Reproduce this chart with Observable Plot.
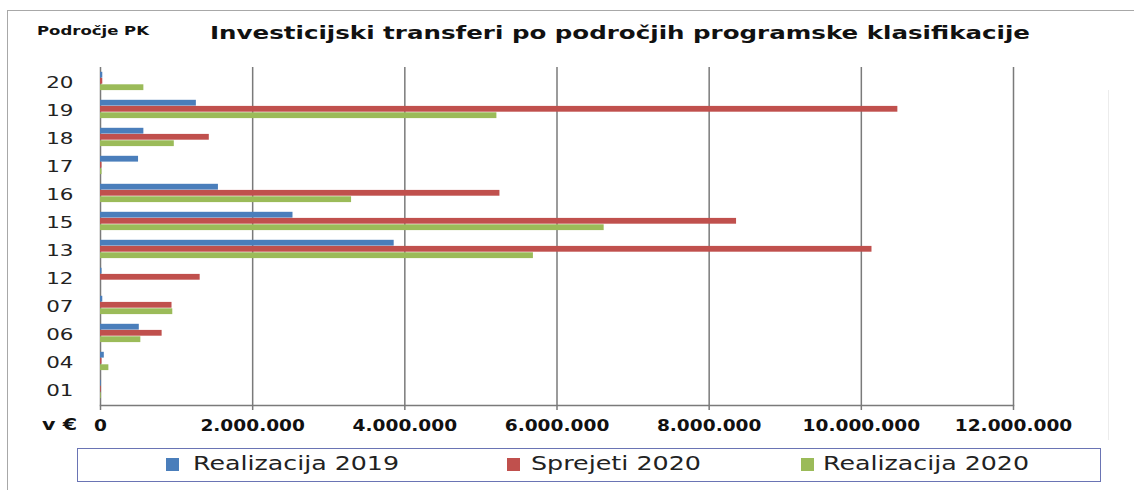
<!DOCTYPE html>
<html>
<head>
<meta charset="utf-8">
<script src="https://cdn.jsdelivr.net/npm/d3@7"></script>
<script src="https://cdn.jsdelivr.net/npm/@observablehq/plot@0.6"></script>
<style>
  html, body { margin: 0; padding: 0; background: #fff; }
  #wrap { position: relative; width: 1134px; height: 490px; overflow: hidden; font-family: "DejaVu Sans", sans-serif; color: #111; }
  #frame { position: absolute; left: 7px; top: 10px; width: 1200px; height: 600px; border-left: 1.5px solid #a8a8a8; border-top: 1.5px solid #a8a8a8; }
  #rline { position: absolute; left: 1108px; top: 90px; width: 1px; height: 350px; background: #ececec; }
  .abs { position: absolute; white-space: nowrap; transform-origin: 0 50%; }
  #title { font-weight: bold; font-size: 18.5px; top: 22px; }
  #ylab { font-weight: bold; font-size: 12.5px; top: 23px; left: 37px; }
  #unit { font-weight: bold; font-size: 15px; top: 416px; left: 42px; }
  #chart { position: absolute; left: 0; top: 55px; }
  #legend { position: absolute; left: 77px; top: 448px; width: 1024px; height: 34px; border: 1.5px solid #6a74b4; box-sizing: border-box; }
  .sw { position: absolute; width: 13px; height: 13px; top: 9px; }
  .lt { position: absolute; top: 3px; font-size: 19px; font-family: "DejaVu Sans", sans-serif; color: #222; white-space: nowrap; transform-origin: 0 50%; }
</style>
</head>
<body>
<div id="wrap">
  <div id="frame"></div>
  <div id="rline"></div>
  <div id="ylab" class="abs">Področje PK</div>
  <div id="title" class="abs">Investicijski transferi po področjih programske klasifikacije</div>
  <div id="chart"></div>
  <div id="unit" class="abs">v €</div>
  <div id="legend"></div>
</div>
<script>
// ---- data (values in €) ----
const categories = ["20", "19", "18", "17", "16", "15", "13", "12", "07", "06", "04", "01"];
const seriesNames = ["Realizacija 2019", "Sprejeti 2020", "Realizacija 2020"];
const realizacija2019 = [30000, 1260000, 570000, 500000, 1550000, 2530000, 3860000, 20000, 30000, 510000, 50000, 10000];
const sprejeti2020    = [30000, 10480000, 1430000, 20000, 5250000, 8360000, 10140000, 1310000, 940000, 810000, 20000, 10000];
const realizacija2020 = [570000, 5210000, 970000, 20000, 3300000, 6620000, 5690000, 0, 950000, 530000, 110000, 10000];
const xTicks = [0, 2000000, 4000000, 6000000, 8000000, 10000000, 12000000];
const colors = ["#4a7ebb", "#c0504d", "#9bbb59"];

const seriesValues = [realizacija2019, sprejeti2020, realizacija2020];
const rows = [];
seriesNames.forEach((s, si) => categories.forEach((c, ci) => rows.push({cat: c, series: s, value: seriesValues[si][ci]})));

const fmt = d3.formatLocale({decimal: ",", thousands: ".", grouping: [3], currency: ["", "€"]}).format(",d");

const offsets = [-7.3, -1.2, 5.2];
const barInset = 11.1;

const plot = Plot.plot({
  width: 1134,
  height: 390,
  marginLeft: 100,
  marginRight: 121,
  marginTop: 12,
  marginBottom: 40,
  style: {fontFamily: "DejaVu Sans", background: "transparent", color: "#111", overflow: "visible"},
  x: {domain: [0, 12000000], ticks: xTicks, tickFormat: fmt, tickSize: 5, tickPadding: 10, label: null},
  y: {domain: categories, padding: 0, tickSize: 0, tickPadding: 27, label: null},
  color: {domain: seriesNames, range: colors},
  marks: [
    Plot.ruleX(xTicks, {stroke: "#7a7a7a", strokeWidth: 1.5}),
    ...seriesNames.map((s, i) => Plot.barX(rows.filter(d => d.series === s), {
      x: "value", y: "cat", fill: "series", insetTop: barInset, insetBottom: barInset, dy: offsets[i]
    })),
    Plot.frame({anchor: "bottom", stroke: "#7a7a7a", strokeWidth: 1.5})
  ]
});
document.getElementById("chart").appendChild(plot);

// axis text styling: widen glyphs horizontally like the reference
const svg = d3.select(plot);
function widen(sel, sx) {
  sel.each(function() {
    const t = this.getAttribute("transform") || "";
    this.setAttribute("transform", t + ` scale(${sx},1)`);
  });
}
svg.selectAll("[aria-label='x-axis tick label']")
  .style("font-weight", "bold").style("font-size", "15px");
widen(svg.selectAll("[aria-label='x-axis tick label'] text"), 1.24);
svg.selectAll("[aria-label='x-axis tick']").attr("stroke", "#7a7a7a").attr("stroke-width", 1.5);
svg.selectAll("[aria-label='y-axis tick label']").style("font-size", "16.5px").attr("fill", "#222");
widen(svg.selectAll("[aria-label='y-axis tick label'] text"), 1.3);

// fit helpers for HTML text (horizontal stretch)
function fitTo(el, left, right) {
  const w = el.getBoundingClientRect().width;
  el.style.transform = `scaleX(${(right - left) / w})`;
  el.style.left = left + "px";
}
fitTo(document.getElementById("title"), 210, 1030);
fitTo(document.getElementById("ylab"), 37, 149);
fitTo(document.getElementById("unit"), 42, 77);

// legend
const legend = document.getElementById("legend");
const legendPos = [[165, 192, 398], [506, 530, 700], [800, 822, 1028]];
seriesNames.forEach((s, i) => {
  const sw = document.createElement("div");
  sw.className = "sw";
  sw.style.left = (legendPos[i][0] - 77) + "px";
  sw.style.background = colors[i];
  legend.appendChild(sw);
  const t = document.createElement("div");
  t.className = "lt";
  t.textContent = s;
  legend.appendChild(t);
  const w = t.getBoundingClientRect().width;
  t.style.transform = `scaleX(${(legendPos[i][2] - legendPos[i][1]) / w})`;
  t.style.left = (legendPos[i][1] - 77) + "px";
});
</script>
</body>
</html>
